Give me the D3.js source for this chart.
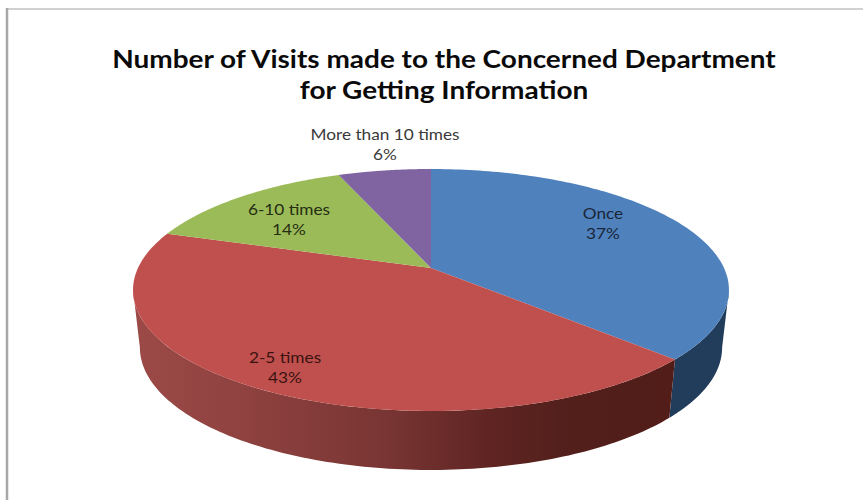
<!DOCTYPE html>
<html>
<head>
<meta charset="utf-8">
<script src="https://cdn.jsdelivr.net/npm/d3@7/dist/d3.min.js"></script>
<style>
html, body { margin: 0; padding: 0; background: #fff; }
svg { display: block; }
text { font-family: Lato, "Open Sans", sans-serif; }
</style>
</head>
<body>
<svg id="chart" width="863" height="500"></svg>
<script>
// Chart content
const titleLines = ["Number of Visits made to the Concerned Department", "for Getting Information"];
const categories = ["Once", "2-5 times", "6-10 times", "More than 10 times"];
const shares = [37, 43, 14, 6];

// Appearance
const topColors = ["#4f81bd", "#c0504d", "#9bbb59", "#8064a2"];
const labelColors = ["#1a2637", "#3a1311", "#252d12", "#3a3a3a"];
const labelAnchors = [[603, 214], [285, 358], [289, 210], [385, 135]];

const width = 863, height = 500;
const svg = d3.select("#chart");

// Page frame: a heavier rule down the left, a lighter one along the top
svg.append("path").attr("d", "M8,9H863").attr("fill", "none")
  .attr("stroke", "#c2c2c2").attr("stroke-width", 1.5);
svg.append("path").attr("d", "M7,8V500").attr("fill", "none")
  .attr("stroke", "#a8a8a8").attr("stroke-width", 2.5);

// The disc is a tilted circle seen in perspective, so points nearer the
// viewer spread further from the hub.
const hub = { x: 431, y: 268 };
const disc = { a: 293, b: 117, k: 0.1818 };
const rimMidY = 290, floorMidY = 347.5, floorStretchY = 1.012, floorScale = 0.977;

function project(angle) {
  const ux = Math.sin(angle), uy = -Math.cos(angle);
  const w = 1 - disc.k * uy;
  return [hub.x + disc.a * ux / w, hub.y + disc.b * uy / w];
}
const lower = ([x, y]) => [hub.x + (x - hub.x) * floorScale, floorMidY + (y - rimMidY) * floorStretchY];

const rimPoints = (a0, a1) => d3.range(0, 121).map(i => project(a0 + (a1 - a0) * i / 120));
const line = d3.line();

const pie = d3.pie().sort(null).value(d => d);
const arcs = pie(shares);

// Shading that runs across the visible wall of the disc
const defs = svg.append("defs");
const redWall = defs.append("linearGradient").attr("id", "wall-red")
  .attr("gradientUnits", "userSpaceOnUse")
  .attr("x1", 133).attr("x2", 677).attr("y1", 0).attr("y2", 0);
[[0, "#9c4a47"], [0.2, "#8f4240"], [0.45, "#7a3634"], [0.65, "#602523"], [0.8, "#521f1b"], [1, "#521d19"]]
  .forEach(([o, c]) => redWall.append("stop").attr("offset", o).attr("stop-color", c));

// The rim's widest points sit where the near half begins, so the visible wall
// runs between those two angles.
const turnAngle = Math.acos(-disc.k);
const wallStart = turnAngle, wallEnd = 2 * Math.PI - turnAngle;
const wallFill = ["#223c5c", "url(#wall-red)"];

svg.append("g").selectAll("path")
  .data(arcs.slice(0, 2))
  .join("path")
  .attr("d", d => {
    const from = Math.max(d.startAngle, wallStart), to = Math.min(d.endAngle, wallEnd);
    const top = rimPoints(from, to);
    return line(top.concat(top.slice().reverse().map(lower))) + "Z";
  })
  .attr("fill", (d, i) => wallFill[i]);

// Top face of each slice
svg.append("g").selectAll("path")
  .data(arcs)
  .join("path")
  .attr("d", d => line([[hub.x, hub.y]].concat(rimPoints(d.startAngle, d.endAngle))) + "Z")
  .attr("fill", (d, i) => topColors[i]);

// Slice labels: category name above its percentage, drawn slightly wide
const labels = svg.append("g").selectAll("text")
  .data(categories)
  .join("text")
  .attr("text-anchor", "middle")
  .attr("font-size", 14.5)
  .attr("fill", (d, i) => labelColors[i])
  .attr("transform", (d, i) => `translate(${labelAnchors[i]}) scale(1.19,1)`);
labels.append("tspan").attr("x", 0).attr("y", 5).text(d => d);
labels.append("tspan").attr("x", 0).attr("y", 25).text((d, i) => shares[i] + "%");

// Title, also set wide
svg.append("g").selectAll("text")
  .data(titleLines)
  .join("text")
  .attr("transform", (d, i) => `translate(444,${68 + i * 31}) scale(1.165,1)`)
  .attr("text-anchor", "middle")
  .attr("font-size", 24)
  .attr("font-weight", 700)
  .attr("fill", "#0a0a0a")
  .text(d => d);
</script>
</body>
</html>
